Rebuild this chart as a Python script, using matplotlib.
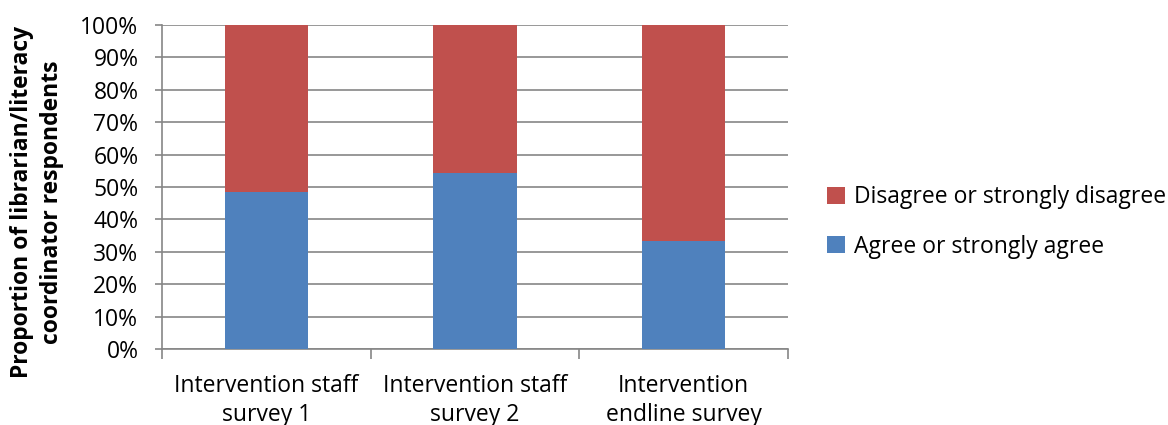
import matplotlib.pyplot as plt
import numpy as np

categories = ["Intervention staff\nsurvey 1", "Intervention staff\nsurvey 2", "Intervention\nendline survey"]
agree = [48.4, 54.2, 33.3]
disagree = [51.6, 45.8, 66.7]
series_names = ["Agree or strongly agree", "Disagree or strongly disagree"]
y_ticks = list(range(0, 101, 10))

blue = "#4f81bd"
red = "#c0504d"
grey = "#868686"

plt.rcParams["font.family"] = ["Open Sans", "DejaVu Sans"]

fig = plt.figure(figsize=(11.68, 4.25), dpi=100)
ax = fig.add_axes([0.1387, 0.1788, 0.536, 0.7624])

x = np.arange(len(categories))
width = 0.4
b1 = ax.bar(x, agree, width, color=blue, zorder=3, label=series_names[0])
b2 = ax.bar(x, disagree, width, bottom=agree, color=red, zorder=3, label=series_names[1])

ax.set_xlim(-0.5, len(categories) - 0.5)
ax.set_ylim(0, 100)
ax.set_yticks(y_ticks)
ax.set_yticklabels([f"{t}%" for t in y_ticks], fontsize=16.5)
ax.yaxis.grid(True, color=grey, linewidth=1.2, zorder=0)
ax.tick_params(axis="y", length=5, color=grey, width=1.2, pad=12)

ax.set_xticks(x)
ax.set_xticklabels(categories, fontsize=16.5, linespacing=1.3)
ax.tick_params(axis="x", which="major", length=0, pad=18)
ax.set_xticks(np.arange(-0.5, len(categories), 1.0), minor=True)
ax.tick_params(axis="x", which="minor", length=7, color=grey, width=1.2)

for side in ["top", "right"]:
    ax.spines[side].set_visible(False)
for side in ["left", "bottom"]:
    ax.spines[side].set_color(grey)
    ax.spines[side].set_linewidth(1.2)

ax.set_ylabel("Proportion of librarian/literacy\ncoordinator respondents", fontsize=16.5,
              fontweight="bold", linespacing=1.3)
ax.yaxis.set_label_coords(-0.157, 0.454)

handles = [b2, b1]
ax.legend(handles, [series_names[1], series_names[0]], loc="center left",
          bbox_to_anchor=(1.03, 0.392), frameon=False, fontsize=16.5,
          handlelength=0.75, handleheight=0.75, handletextpad=0.4, labelspacing=1.1)

fig.savefig("out.png", dpi=100)
